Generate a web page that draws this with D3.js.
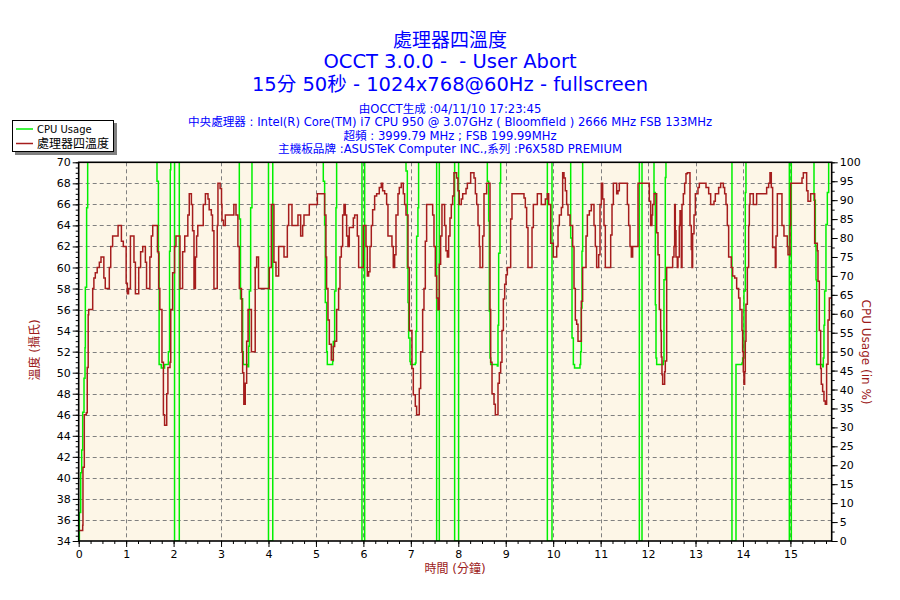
<!DOCTYPE html>
<html><head><meta charset="utf-8">
<script src="https://cdn.jsdelivr.net/npm/d3@7"></script>
<style>
body{margin:0;background:#fff;}
svg{display:block;font-family:"DejaVu Sans","Noto Sans CJK TC",sans-serif;}
text{white-space:pre;}
</style></head><body>
<svg id="c" width="900" height="600"></svg>
<script>
// ---------- data ----------
const chartTitle = "處理器四溫度";
const subTitles = ["OCCT 3.0.0 -  - User Abort", "15分 50秒 - 1024x768@60Hz - fullscreen"];
const infoLines = [
  "由OCCT生成 :04/11/10 17:23:45",
  "中央處理器 : Intel(R) Core(TM) i7 CPU 950 @ 3.07GHz ( Bloomfield ) 2666 MHz FSB 133MHz",
  "超頻 : 3999.79 MHz ; FSB 199.99MHz",
  "主機板品牌 :ASUSTeK Computer INC.,系列 :P6X58D PREMIUM"
];
const seriesNames = ["CPU Usage", "處理器四溫度"];
const xTitle = "時間 (分鐘)";
const yLeftTitle = "溫度 (攝氏)";
const yRightTitle = "CPU Usage (in %)";
const tempTicks = d3.range(34, 71, 2);
const cpuTicks = d3.range(0, 101, 5);
const timeTicks = d3.range(0, 16, 1);
const timeDomain = [0, 15.87];

// temperature (°C) at time (minutes) — value holds until next point
const tempPoints = [[0,35],[0.084,35.5],[0.09,41],[0.118,46],[0.16,46.2],[0.18,50.5],[0.2,55.5],[0.21,56],
[0.295,58],[0.32,59],[0.35,59.5],[0.39,60],[0.435,60.5],[0.47,61],[0.53,59],[0.56,58],[0.645,60],[0.675,62],[0.715,63],[0.83,64],[0.9,62.5],[0.94,62],[1.0,58.5],[1.025,57.5],[1.05,58],[1.09,63],[1.165,60.5],[1.195,57.5],[1.265,60],[1.305,61.5],[1.35,62],[1.405,60.5],[1.43,58],[1.5,61],[1.53,63],[1.56,64],[1.66,61.5],[1.685,58],[1.71,56],[1.755,51],[1.785,46],[1.81,45],[1.855,48],[1.88,50.5],[1.925,51],[1.94,56],[1.98,59.5],[2.02,62],[2.05,63],[2.135,58],[2.19,61.5],[2.235,63],[2.3,65],[2.33,67],[2.375,66],[2.4,63.5],[2.43,58],[2.46,61],[2.485,63],[2.51,64],[2.625,66],[2.67,67],[2.725,66.5],[2.75,65.5],[2.795,65],[2.82,63.5],[2.85,58],[2.92,64],[2.935,68],[2.98,67.5],[3.01,66],[3.02,64.5],[3.05,64],[3.09,65],[3.27,66],[3.315,65],[3.355,62],[3.385,58],[3.43,57],[3.44,52],[3.455,50],[3.48,47],[3.51,49],[3.54,53],[3.57,56],[3.64,52],[3.72,60],[3.75,61],[3.79,58],[4.017,60],[4.06,66],[4.115,60.5],[4.158,59.2],[4.214,62],[4.327,61],[4.397,64],[4.425,66],[4.495,64],[4.621,65],[4.678,63],[4.72,64],[4.748,65],[4.86,66],[5.03,67],[5.183,65],[5.211,61],[5.225,58],[5.254,55],[5.282,52.7],[5.324,51.2],[5.366,52.5],[5.394,53],[5.436,56],[5.478,58],[5.507,61],[5.535,62],[5.563,65],[5.591,66],[5.619,65],[5.647,63],[5.675,62],[5.703,63.8],[5.788,64.7],[5.816,65],[5.872,63],[5.9,60],[5.998,64],[6.055,62],[6.083,59.2],[6.111,59.6],[6.139,62],[6.167,64],[6.195,65.5],[6.237,66.8],[6.279,67],[6.335,67.6],[6.378,68],[6.406,67.3],[6.448,67],[6.49,66],[6.518,63],[6.602,62],[6.63,60],[6.659,61.2],[6.687,65],[6.729,67],[6.757,67.6],[6.799,68],[6.841,67],[6.869,66],[6.898,65],[6.94,60],[6.968,54],[7.024,50.4],[7.052,47.9],[7.094,46.8],[7.122,46],[7.178,48.5],[7.207,52],[7.249,56],[7.277,58],[7.305,62.5],[7.333,66],[7.46,65],[7.488,62],[7.516,59.2],[7.544,57.1],[7.572,56],[7.6,60.3],[7.628,63],[7.656,66],[7.712,64],[7.74,61.6],[7.769,61],[7.797,63],[7.825,64.7],[7.853,66],[7.881,66.8],[7.909,69],[7.965,68.5],[7.993,67.3],[8.021,66],[8.064,66.5],[8.093,67],[8.163,67.5],[8.191,68],[8.261,69],[8.331,68.5],[8.36,67],[8.388,66],[8.416,64],[8.444,62],[8.458,60],[8.514,63],[8.542,67],[8.598,68],[8.669,56],[8.683,51],[8.711,48],[8.753,47],[8.781,46],[8.837,49],[8.865,50],[8.893,51],[8.921,54],[8.95,57],[8.978,58.4],[9.006,59.3],[9.034,60],[9.104,64.6],[9.132,67],[9.385,66.6],[9.413,65.7],[9.441,63.8],[9.469,60],[9.554,63.8],[9.582,66],[9.666,67],[9.75,66],[9.835,66.5],[9.877,67],[9.905,66],[9.947,62.3],[10.003,61],[10.074,62],[10.102,64],[10.13,65],[10.172,65.7],[10.2,69],[10.228,68.5],[10.256,67.3],[10.284,66],[10.312,65],[10.355,64],[10.411,62],[10.439,58],[10.467,55],[10.495,54.6],[10.523,53],[10.593,56.8],[10.621,60],[10.692,63],[10.72,65],[10.762,65.4],[10.804,66],[10.86,64],[10.888,62],[10.916,60],[10.959,61.2],[10.987,66],[11.015,68],[11.043,66.5],[11.071,64],[11.099,60],[11.212,63.1],[11.24,66],[11.268,68],[11.338,67],[11.366,67.3],[11.394,68],[11.563,66],[11.591,64],[11.619,62],[11.647,61],[11.675,62],[11.788,68],[12.026,66.3],[12.054,64],[12.082,65],[12.096,66],[12.125,67],[12.181,63.3],[12.209,61.2],[12.237,56],[12.265,54],[12.279,51.5],[12.293,49.8],[12.307,48.9],[12.349,50.1],[12.363,51.1],[12.392,60],[12.518,61],[12.546,62],[12.56,66],[12.574,63.5],[12.588,61],[12.616,60],[12.63,61],[12.658,64],[12.673,65.4],[12.701,60],[12.715,66],[12.743,67],[12.771,68],[12.799,68.9],[12.827,69],[12.883,64],[12.911,61.7],[12.925,60],[12.939,63.2],[12.968,65],[12.996,67],[13.052,67.6],[13.08,68],[13.221,67.6],[13.277,67],[13.319,66],[13.389,66.3],[13.417,67],[13.487,67.6],[13.53,68],[13.586,67.6],[13.614,67],[13.642,66],[13.67,64],[13.698,61],[13.754,60],[13.782,59.2],[13.825,59],[13.867,58],[13.909,57.1],[13.937,56],[13.979,54],[13.993,52],[14.007,50.1],[14.021,48.9],[14.035,50.1],[14.049,53],[14.063,56.5],[14.092,60],[14.12,64],[14.134,66],[14.148,67],[14.218,66],[14.288,67],[14.499,67.6],[14.541,68],[14.569,69],[14.597,67.6],[14.625,61.9],[14.682,60],[14.696,63],[14.724,67],[14.822,64],[14.864,63],[14.935,62],[14.949,61.2],[14.991,64],[15.005,68],[15.244,68.5],[15.272,69],[15.342,67.3],[15.37,66.3],[15.426,67],[15.511,62.3],[15.567,61.6],[15.581,58.7],[15.609,54],[15.637,50.4],[15.651,48.9],[15.679,48.2],[15.707,47.3],[15.735,47],[15.763,50.8],[15.792,55],[15.82,57.1],[15.87,57.1]];

// CPU usage (%) at time (minutes) — value holds until next point
const cpuPoints = [[0,0],[0.014,7.5],[0.042,18],[0.063,24],[0.084,34],[0.112,43],[0.133,51],[0.14,67],[0.167,88],[0.189,100],
[1.65,95],[1.68,76],[1.695,46.6],[1.74,45.7],[1.81,46.6],[1.89,50],[1.915,76.5],[1.93,98],[1.94,100],
[2.02,0],[2.12,100],
[3.385,85],[3.41,64],[3.455,50],[3.469,46.6],[3.567,46],[3.581,51.4],[3.596,66],[3.624,88],[3.652,100],
[4.0,0],[4.09,100],
[5.155,95],[5.183,83.6],[5.197,63],[5.226,50],[5.24,46.6],[5.352,47.5],[5.366,52.7],[5.394,66],[5.422,88],[5.436,100],
[5.97,0],[6.027,100],
[6.898,97.7],[6.926,72],[6.94,63],[6.954,53.6],[6.982,47.4],[6.996,46.6],[7.094,47],[7.108,55.4],[7.122,80.5],[7.15,88],[7.164,100],
[7.544,0],[7.6,100],
[7.923,0],[8.007,100],
[8.612,95],[8.64,84.5],[8.654,60.7],[8.669,48.3],[8.683,46.6],[8.823,46.2],[8.837,57],[8.851,76],[8.879,94.6],[8.893,100],
[9.877,0],[9.975,100],
[10.369,80],[10.397,53.6],[10.425,46.6],[10.45,45.7],[10.565,46.6],[10.579,50],[10.593,61.5],[10.607,76.5],[10.621,100],
[11.816,0],[11.872,100],
[12.125,92],[12.153,62.4],[12.167,48.3],[12.181,46.6],[12.321,47.5],[12.335,69],[12.363,96],[12.377,100],
[13.768,0],[13.853,46.6],[13.979,47],[13.993,48.3],[14.021,66],[14.049,92],[14.063,100],
[14.977,0],[15.019,100],
[15.497,90],[15.525,78],[15.539,69],[15.553,46.6],[15.679,46],[15.693,48.3],[15.707,57],[15.721,66],[15.749,83.6],[15.778,92],[15.806,100],[15.87,100]];

// ---------- drawing ----------
const svg = d3.select("#c");
const M = {l:78.7, r:831.7, t:162.3, b:541};
const blue = "#0000ff", darkRed = "#9c1a1a", tempColor = "#a51d1d", cpuColor = "#00f000";

const x = d3.scaleLinear(timeDomain, [M.l, M.r]);
const yT = d3.scaleLinear([34, 70], [M.b, M.t]);
const yC = d3.scaleLinear([0, 100], [M.b, M.t]);

svg.append("rect").attr("width", 900).attr("height", 600).attr("fill", "#fff");

// titles
svg.append("text").attr("x", 450).attr("y", 47).attr("text-anchor", "middle")
  .attr("fill", blue).style("font-family", "'Noto Sans CJK TC','DejaVu Sans',sans-serif")
  .style("font-size", "19px").text(chartTitle);
subTitles.forEach((s, i) => {
  svg.append("text").attr("x", 450).attr("y", 68 + i * 23).attr("text-anchor", "middle")
    .attr("fill", blue).style("font-size", i === 0 ? "19.5px" : "19.5px").text(s);
});
infoLines.forEach((s, i) => {
  svg.append("text").attr("x", 450).attr("y", 113 + i * 13.4).attr("text-anchor", "middle")
    .attr("fill", blue).style("font-size", "11.6px").text(s);
});

// plot background
svg.append("rect").attr("x", M.l).attr("y", M.t).attr("width", M.r - M.l).attr("height", M.b - M.t)
  .attr("fill", "#fdf6e7");

// grid
const grid = svg.append("g").attr("stroke", "#808080").attr("stroke-dasharray", "4,3").attr("stroke-width", 1);
grid.selectAll(".h").data(tempTicks.filter(d => d > 34 && d < 70)).join("line")
  .attr("x1", M.l).attr("x2", M.r).attr("y1", d => Math.round(yT(d)) + 0.5).attr("y2", d => Math.round(yT(d)) + 0.5);
grid.selectAll(".v").data(timeTicks.filter(d => d > 0)).join("line")
  .attr("y1", M.t).attr("y2", M.b).attr("x1", d => Math.round(x(d)) + 0.5).attr("x2", d => Math.round(x(d)) + 0.5);

// clip
svg.append("clipPath").attr("id", "clip").append("rect")
  .attr("x", M.l).attr("y", M.t).attr("width", M.r - M.l).attr("height", M.b - M.t);
const plot = svg.append("g").attr("clip-path", "url(#clip)");

const cpuLine = d3.line().x(d => x(d[0])).y(d => yC(d[1])).curve(d3.curveStepAfter);
const tempLine = d3.line().x(d => x(d[0])).y(d => yT(d[1])).curve(d3.curveStepAfter);

plot.append("path").datum(cpuPoints).attr("d", cpuLine).attr("fill", "none")
  .attr("stroke", cpuColor).attr("stroke-width", 1.5);
plot.append("path").datum(tempPoints).attr("d", tempLine).attr("fill", "none")
  .attr("stroke", tempColor).attr("stroke-width", 1.5);

// axes
function styleAxis(g) {
  g.select(".domain").remove();
  g.selectAll("line").attr("stroke", "#000");
  g.selectAll("text").attr("fill", "#000").style("font-size", "11px")
    .style("font-family", "'DejaVu Sans',sans-serif");
}
svg.append("g").attr("transform", `translate(${M.l},0)`)
  .call(d3.axisLeft(yT).tickValues(d3.range(34, 70.01, 0.5)).tickSize(3).tickFormat(""))
  .call(styleAxis);
svg.append("g").attr("transform", `translate(${M.l},0)`)
  .call(d3.axisLeft(yT).tickValues(tempTicks).tickSize(6).tickPadding(2))
  .call(styleAxis);
svg.append("g").attr("transform", `translate(${M.r},0)`)
  .call(d3.axisRight(yC).tickValues(d3.range(0, 100.01, 2.5)).tickSize(3).tickFormat(""))
  .call(styleAxis);
svg.append("g").attr("transform", `translate(${M.r},0)`)
  .call(d3.axisRight(yC).tickValues(cpuTicks).tickSize(6).tickPadding(2))
  .call(styleAxis);
svg.append("g").attr("transform", `translate(0,${M.b})`)
  .call(d3.axisBottom(x).tickValues(d3.range(0, 15.9, 0.25)).tickSize(3).tickFormat(""))
  .call(styleAxis);
svg.append("g").attr("transform", `translate(0,${M.b})`)
  .call(d3.axisBottom(x).tickValues(timeTicks).tickSize(6).tickPadding(3))
  .call(styleAxis);

// border
svg.append("rect").attr("x", M.l).attr("y", M.t).attr("width", M.r - M.l).attr("height", M.b - M.t)
  .attr("fill", "none").attr("stroke", "#000").attr("stroke-width", 1.6);

// axis titles
svg.append("text").attr("x", 455).attr("y", 573).attr("text-anchor", "middle").attr("fill", darkRed)
  .style("font-size", "12px").text(xTitle);
svg.append("text").attr("transform", "translate(39,350) rotate(-90)").attr("text-anchor", "middle")
  .attr("fill", darkRed).style("font-size", "12px").text(yLeftTitle);
svg.append("text").attr("transform", "translate(862,352) rotate(90)").attr("text-anchor", "middle")
  .attr("fill", darkRed).style("font-size", "12px").text(yRightTitle);

// legend
const lg = svg.append("g");
lg.append("rect").attr("x", 15).attr("y", 123).attr("width", 102).attr("height", 32).attr("fill", "#808080");
lg.append("rect").attr("x", 12.5).attr("y", 120.5).attr("width", 101).attr("height", 31)
  .attr("fill", "#fff").attr("stroke", "#000");
const legendColors = [cpuColor, tempColor];
const legendRows = [129, 143.5];
seriesNames.forEach((n, i) => {
  const yy = legendRows[i];
  lg.append("line").attr("x1", 16).attr("x2", 33).attr("y1", yy).attr("y2", yy)
    .attr("stroke", legendColors[i]).attr("stroke-width", 1.5);
  lg.append("text").attr("x", 37).attr("y", yy).attr("dy", "0.35em").attr("fill", "#000")
    .style("font-size", i === 0 ? "10px" : "12px")
    .style("font-family", i === 0 ? "'DejaVu Sans',sans-serif" : "'Noto Sans CJK TC',sans-serif")
    .text(n);
});
</script>
</body></html>
